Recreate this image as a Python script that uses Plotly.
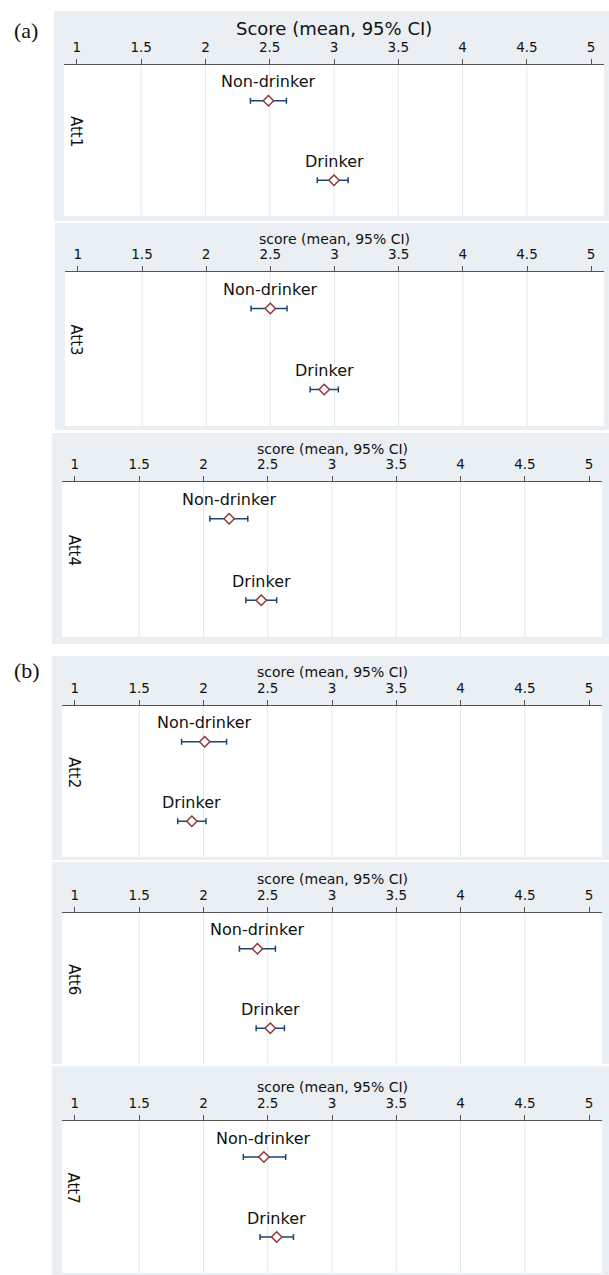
import plotly.graph_objects as go

W, H = 609, 1275

# ---------------- data ----------------
attitudes = ["Att1", "Att3", "Att4", "Att2", "Att6", "Att7"]
groups = ["Non-drinker", "Drinker"]
group_pos = [2, 1]
nd_mean = [2.49, 2.50, 2.20, 2.01, 2.42, 2.47]
nd_lo = [2.35, 2.35, 2.05, 1.83, 2.28, 2.31]
nd_hi = [2.63, 2.63, 2.345, 2.18, 2.56, 2.64]
d_mean = [3.00, 2.92, 2.45, 1.91, 2.52, 2.57]
d_lo = [2.87, 2.81, 2.33, 1.80, 2.41, 2.44]
d_hi = [3.11, 3.03, 2.57, 2.02, 2.63, 2.70]
axis_titles = ["Score (mean, 95% CI)"] + ["score (mean, 95% CI)"] * 5
tick_vals = [1, 1.5, 2, 2.5, 3, 3.5, 4, 4.5, 5]
tick_text = ["1", "1.5", "2", "2.5", "3", "3.5", "4", "4.5", "5"]
grid_vals = [1.5, 2, 2.5, 3, 3.5, 4, 4.5]
section_labels = ["(a)", "(b)"]

# ---------------- layout geometry (pixels) ----------------
panels = [
    dict(gray=(54, 11, 609, 221), plot=(64, 65, 604, 216), title_y=28, tsize=18),
    dict(gray=(55, 223, 609, 430), plot=(65, 272, 604, 426), title_y=239, tsize=14),
    dict(gray=(52, 433, 609, 644), plot=(62, 482, 602, 637), title_y=449, tsize=14),
    dict(gray=(52, 656, 609, 860), plot=(62, 706, 602, 857), title_y=672, tsize=14),
    dict(gray=(52, 862, 609, 1064), plot=(62, 913, 602, 1064), title_y=879, tsize=14),
    dict(gray=(52, 1066, 609, 1275), plot=(62, 1121, 602, 1273), title_y=1087, tsize=14),
]
section_pos = [(26, 30), (27, 670)]

GRAY = "#e9eff2"
GRID = "#e1e9ed"
AXIS = "#555555"
NAVY = "#1a476f"
MAROON = "#90353b"
FONT = "DejaVu Sans"


def px(x):
    return x / W


def py(y):
    return 1 - y / H


fig = go.Figure()
shapes = []
annotations = []
layout = {}

for i, p in enumerate(panels):
    n = i + 1
    xa = "x" if n == 1 else f"x{n}"
    ya = "y" if n == 1 else f"y{n}"
    gl, gt, gr, gb = p["gray"]
    pl, pt, pr, pb = p["plot"]

    shapes.append(dict(type="rect", xref="paper", yref="paper",
                       x0=px(gl), x1=px(gr), y0=py(gb), y1=py(gt),
                       fillcolor=GRAY, line=dict(width=0), layer="below"))
    shapes.append(dict(type="rect", xref="paper", yref="paper",
                       x0=px(pl), x1=px(pr), y0=py(pb), y1=py(pt),
                       fillcolor="white", line=dict(width=0), layer="below"))
    for v in grid_vals:
        shapes.append(dict(type="line", xref=xa, yref=f"{ya} domain",
                           x0=v, x1=v, y0=0, y1=1,
                           line=dict(color=GRID, width=1), layer="below"))

    means = [nd_mean[i], d_mean[i]]
    los = [nd_lo[i], d_lo[i]]
    his = [nd_hi[i], d_hi[i]]
    fig.add_trace(go.Scatter(
        x=means, y=group_pos, mode="markers",
        xaxis=xa, yaxis=ya, showlegend=False,
        marker=dict(symbol="diamond", size=8, color="white",
                    line=dict(color=MAROON, width=1.5)),
        error_x=dict(type="data", symmetric=False,
                     array=[h - m for h, m in zip(his, means)],
                     arrayminus=[m - l for m, l in zip(means, los)],
                     color=NAVY, thickness=1.5, width=3),
    ))
    for g, m, yv in zip(groups, means, group_pos):
        annotations.append(dict(x=m, y=yv, xref=xa, yref=ya, text=g,
                                showarrow=False, yshift=19,
                                font=dict(family=FONT, size=16, color="#111111")))

    layout[f"xaxis{'' if n == 1 else n}"] = dict(
        domain=[px(pl), px(pr)], anchor=ya, range=[0.9, 5.1], side="top",
        tickmode="array", tickvals=tick_vals, ticktext=tick_text,
        ticks="outside", ticklen=5, tickwidth=1, tickcolor=AXIS,
        showline=True, linecolor=AXIS, linewidth=1.3,
        showgrid=False, zeroline=False, ticklabelstandoff=1,
        tickfont=dict(family=FONT, size=13.5, color="#111111"), fixedrange=True)
    layout[f"yaxis{'' if n == 1 else n}"] = dict(
        domain=[py(pb), py(pt)], anchor=xa, range=[0.55, 2.45],
        visible=False, fixedrange=True)

    annotations.append(dict(x=px((pl + pr) / 2), y=py(p["title_y"]),
                            xref="paper", yref="paper", text=axis_titles[i],
                            showarrow=False, xanchor="center", yanchor="middle",
                            font=dict(family=FONT, size=p["tsize"], color="#111111")))
    annotations.append(dict(x=px(pl + 11.5), y=py(pt + 0.44 * (pb - pt)),
                            xref="paper", yref="paper", text=attitudes[i],
                            showarrow=False, textangle=90,
                            xanchor="center", yanchor="middle",
                            font=dict(family=FONT, size=15, color="#111111")))

for lab, (sx, sy) in zip(section_labels, section_pos):
    annotations.append(dict(x=px(sx), y=py(sy), xref="paper", yref="paper",
                            text=lab, showarrow=False,
                            xanchor="center", yanchor="middle",
                            font=dict(family="Liberation Serif", size=22, color="#111111")))

fig.update_layout(
    width=W, height=H, margin=dict(l=0, r=0, t=0, b=0),
    paper_bgcolor="white", plot_bgcolor="white",
    shapes=shapes, annotations=annotations, showlegend=False,
    **layout,
)

fig.write_html(
    "out.html",
    config={"displayModeBar": False, "staticPlot": True},
    post_script="document.body.style.margin='0';document.body.style.padding='0';"
                "document.body.style.overflow='hidden';",
)
